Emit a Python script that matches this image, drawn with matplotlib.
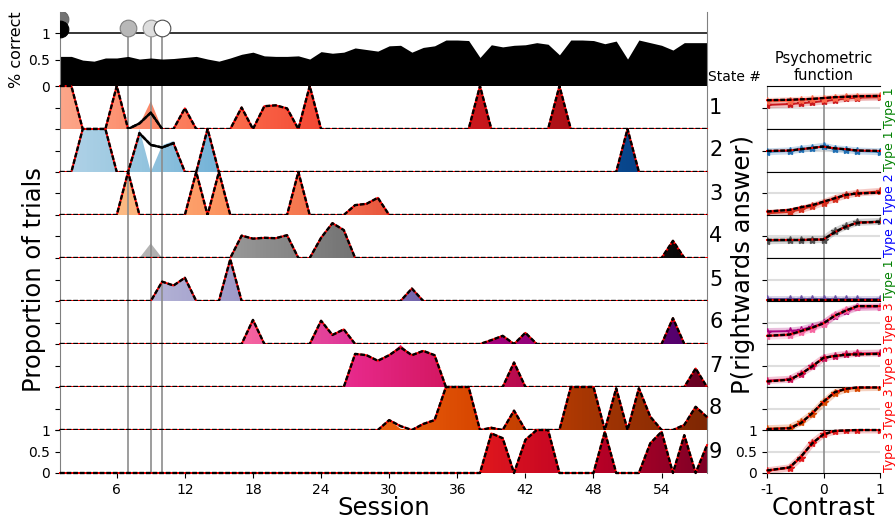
import numpy as np
import matplotlib
matplotlib.use("Agg")
import matplotlib.pyplot as plt
from matplotlib.patches import Polygon

plt.rcParams["axes.unicode_minus"] = False

sessions = np.arange(1, 59)

# fraction of correct trials per session
accuracy = [0.56, 0.56, 0.49, 0.47, 0.53, 0.53, 0.56, 0.51, 0.53, 0.51,
            0.52, 0.54, 0.56, 0.51, 0.47, 0.53, 0.60, 0.64, 0.57, 0.56,
            0.56, 0.57, 0.51, 0.65, 0.62, 0.64, 0.72, 0.69, 0.66, 0.76,
            0.77, 0.64, 0.73, 0.76, 0.87, 0.87, 0.86, 0.54, 0.78, 0.74,
            0.77, 0.78, 0.82, 0.79, 0.59, 0.87, 0.87, 0.86, 0.80, 0.85,
            0.51, 0.87, 0.82, 0.77, 0.68, 0.82, 0.82, 0.82]

# training stage markers
stage_sessions = [1, 1, 7, 9, 10]
stage_heights = [1.26, 1.08, 1.1, 1.1, 1.1]

# proportion of trials in each state (sessions not listed are 0)
state1 = {1: 1.0, 2: 1.0, 6: 1.0, 8: 0.13, 9: 0.38, 12: 0.48, 17: 0.50, 19: 0.53,
          20: 0.55, 21: 0.48, 23: 1.0, 38: 1.0, 45: 1.0}
state2 = {3: 1.0, 4: 1.0, 5: 1.0, 8: 0.90, 9: 0.63, 10: 0.57, 11: 0.67, 14: 1.0, 51: 1.0}
state3 = {7: 1.0, 13: 1.0, 15: 1.0, 22: 1.0, 27: 0.23, 28: 0.26, 29: 0.40}
state4 = {17: 0.52, 18: 0.45, 19: 0.47, 20: 0.46, 21: 0.53, 24: 0.47, 25: 0.81,
          26: 0.65, 55: 0.40}
state5 = {10: 0.45, 11: 0.36, 12: 0.54, 16: 0.97, 32: 0.29}
state6 = {18: 0.56, 24: 0.54, 25: 0.21, 26: 0.34, 39: 0.09, 40: 0.19, 42: 0.26, 55: 0.60}
state7 = {27: 0.77, 28: 0.74, 29: 0.61, 30: 0.74, 31: 0.92, 32: 0.74, 33: 0.84,
          34: 0.74, 41: 0.57, 57: 0.43}
state8 = {30: 0.23, 31: 0.09, 33: 0.14, 34: 0.23, 35: 1.0, 36: 1.0, 37: 1.0, 39: 0.05,
          41: 0.45, 46: 1.0, 47: 1.0, 48: 1.0, 50: 0.97, 52: 0.97, 53: 0.31,
          56: 0.12, 57: 0.54, 58: 0.30}
state9 = {39: 0.92, 40: 0.81, 42: 0.77, 43: 1.0, 44: 1.0, 49: 0.96, 53: 0.69,
          54: 0.96, 56: 0.88, 58: 0.65}

# raw state occupancy where it differs from the smoothed trace
fill1 = {8: 0.10, 9: 0.65}
fill2 = {8: 1.0, 9: 0.0, 10: 0.62, 11: 0.72}
fill4 = {9: 0.34}
fill7 = {31: 0.98}
fill8 = {31: 0.03, 39: 0.08}

# sessions where the second estimate is not drawn
red_gaps = {1: [8, 9], 2: [9, 10]}

state_cmaps = ["Reds", "Blues", "OrRd", "Greys", "Purples", "RdPu", "PuRd", "Oranges", "YlOrRd"]
state_types = ["Type 1", "Type 1", "Type 2", "Type 2", "Type 1",
               "Type 3", "Type 3", "Type 3", "Type 3"]
type_colours = {"Type 1": "green", "Type 2": "blue", "Type 3": "red"}

# psychometric functions per state
contrasts = [-1, -0.6, -0.4, -0.2, 0, 0.2, 0.4, 0.6, 1]
psy1 = [0.67, 0.68, 0.69, 0.70, 0.72, 0.74, 0.75, 0.76, 0.77]
psy2 = [0.49, 0.50, 0.53, 0.56, 0.59, 0.55, 0.53, 0.50, 0.49]
psy3 = [0.08, 0.12, 0.18, 0.23, 0.31, 0.39, 0.47, 0.50, 0.52]
psy4 = [0.42, 0.42, 0.42, 0.43, 0.43, 0.60, 0.73, 0.82, 0.84]
psy5 = [0.03, 0.03, 0.03, 0.03, 0.03, 0.03, 0.03, 0.03, 0.03]
psy6 = [0.19, 0.22, 0.30, 0.38, 0.48, 0.66, 0.78, 0.88, 0.88]
psy7 = [0.13, 0.17, 0.30, 0.48, 0.68, 0.72, 0.75, 0.76, 0.77]
psy8 = [0.02, 0.04, 0.16, 0.39, 0.66, 0.88, 0.96, 0.99, 0.99]
psy9 = [0.06, 0.13, 0.38, 0.69, 0.90, 0.98, 0.99, 1.00, 1.00]

# single-session psychometrics assigned to each state
sess_psy1 = [[0.56, 0.58, 0.60, 0.62, 0.65, 0.68, 0.71, 0.73, 0.74],
             [0.64, 0.66, 0.67, 0.69, 0.70, 0.72, 0.74, 0.75, 0.76]]
sess_psy2 = [[0.47, 0.49, 0.53, 0.56, 0.60, 0.54, 0.52, 0.49, 0.47]]
sess_psy3 = [[0.04, 0.07, 0.13, 0.20, 0.29, 0.38, 0.46, 0.51, 0.55]]
sess_psy4 = [[0.40, 0.41, 0.41, 0.42, 0.43, 0.62, 0.74, 0.83, 0.85]]
sess_psy5 = [[0.05, 0.05, 0.05, 0.05, 0.05, 0.05, 0.05, 0.05, 0.05]]
sess_psy6 = [[0.29, 0.30, 0.33, 0.40, 0.48, 0.65, 0.76, 0.85, 0.86],
             [0.18, 0.20, 0.27, 0.36, 0.47, 0.67, 0.79, 0.86, 0.87]]
sess_psy7 = [[0.15, 0.18, 0.31, 0.48, 0.67, 0.73, 0.76, 0.78, 0.79]]
sess_psy8 = [[0.03, 0.05, 0.18, 0.37, 0.64, 0.86, 0.95, 0.98, 0.99]]
sess_psy9 = [[0.05, 0.12, 0.36, 0.70, 0.90, 0.97, 0.99, 1.00, 1.00]]

states = [state1, state2, state3, state4, state5, state6, state7, state8, state9]
fills = {1: fill1, 2: fill2, 4: fill4, 7: fill7, 8: fill8}
psy_curves = [psy1, psy2, psy3, psy4, psy5, psy6, psy7, psy8, psy9]
psy_sessions = [sess_psy1, sess_psy2, sess_psy3, sess_psy4, sess_psy5,
                sess_psy6, sess_psy7, sess_psy8, sess_psy9]

W, H = 896, 522
TICK_FS = 10
BIG_FS = 17.5


def to_series(values, base=None):
    out = np.zeros(len(sessions)) if base is None else base.copy()
    for s, v in values.items():
        out[s - 1] = v
    return out


def px_axes(fig, x0, y0, x1, y1):
    return fig.add_axes([x0 / W, 1 - y1 / H, (x1 - x0) / W, (y1 - y0) / H])


def trace(ax, x, y, gaps=()):
    # red estimate underneath, dashed black estimate on top
    y = np.asarray(y, dtype=float)
    red = y.copy()
    gap = np.zeros(len(y), dtype=bool)
    for i in gaps:
        gap[i] = True
    red[gap] = np.nan
    ax.plot(x, red, color="red", lw=1.4, clip_on=False, zorder=5)
    ax.plot(x, y, color="black", lw=1.7, dashes=(2.0, 0.8), clip_on=False, zorder=6)
    if gap.any():
        near = gap | np.roll(gap, 1) | np.roll(gap, -1)
        solid = np.where(near, y, np.nan)
        ax.plot(x, solid, color="black", lw=1.7, clip_on=False, zorder=6)


def gradient_fill(ax, x, y, cmap):
    verts = np.column_stack([np.r_[x[0], x, x[-1]], np.r_[0, y, 0]])
    patch = Polygon(verts, closed=True, facecolor="none", edgecolor="none")
    ax.add_patch(patch)
    xs = np.linspace(x[0], x[-1], 600)
    colours = plt.get_cmap(cmap)(0.3 + 0.7 * xs / x[-1])
    img = ax.imshow(colours[np.newaxis], extent=(x[0], x[-1], 0, 1), aspect="auto",
                    origin="lower", interpolation="bilinear", zorder=2)
    img.set_clip_path(patch)


fig = plt.figure(figsize=(W / 100, H / 100), dpi=100)

# accuracy panel
ax_top = px_axes(fig, 60, 12, 707, 86)
ax_top.fill_between(sessions, 0, accuracy, color="black", lw=0, zorder=2)
ax_top.axhline(1, color="black", lw=1.1, zorder=2)
ax_top.vlines(stage_sessions[2:], 0, 1.1, color="0.55", lw=1.2, zorder=1)
stage_face = ["0.45", "black", "0.72", "0.87", "white"]
stage_edge = ["0.4", "black", "0.5", "0.6", "0.3"]
for s, h, fc, ec in zip(stage_sessions, stage_heights, stage_face, stage_edge):
    ax_top.plot(s, h, "o", ms=12, mfc=fc, mec=ec, mew=0.8, zorder=4)
ax_top.set_xlim(1, 58)
ax_top.set_ylim(0, 1.4)
ax_top.set_yticks([0, 0.5, 1])
ax_top.set_yticklabels(["0", "0.5", "1"], fontsize=TICK_FS)
ax_top.tick_params(axis="x", bottom=False, labelbottom=False)
for side in ["top", "bottom"]:
    ax_top.spines[side].set_visible(False)
for side in ["left", "right"]:
    ax_top.spines[side].set_color("0.5")

# state occupancy panels
for k, values in enumerate(states):
    num = k + 1
    ax = px_axes(fig, 60, 86 + 43 * k, 707, 129 + 43 * k)
    line = to_series(values)
    fill = to_series(fills.get(num, {}), base=line)
    gradient_fill(ax, sessions, fill, state_cmaps[k])
    trace(ax, sessions, line, [s - 1 for s in red_gaps.get(num, [])])
    for s in stage_sessions[2:]:
        ax.axvline(s, color="0.55", lw=1.2, zorder=3)
    ax.set_xlim(1, 58)
    ax.set_ylim(0, 1)
    for side in ["top", "bottom"]:
        ax.spines[side].set_visible(False)
    for side in ["left", "right"]:
        ax.spines[side].set_color("0.5")
    if num < 9:
        ax.set_yticks([0, 0.5])
        ax.set_yticklabels([])
        ax.tick_params(axis="x", bottom=False, labelbottom=False)
    else:
        ax.set_yticks([0, 0.5, 1])
        ax.set_yticklabels(["0", "0.5", "1"], fontsize=TICK_FS)
        ax.set_xticks(np.arange(6, 58, 6))
        ax.tick_params(axis="x", labelsize=TICK_FS)
    fig.text(709 / W, 1 - (107.5 + 43 * k) / H, str(num), fontsize=15,
             ha="left", va="center")

    # psychometric function of this state
    axp = px_axes(fig, 767, 86 + 43 * k, 880, 129 + 43 * k)
    cmap = plt.get_cmap(state_cmaps[k])
    axp.axhline(0.5, color="0.87", lw=1.5, zorder=0)
    axp.axvline(0, color="0.55", lw=1.2, zorder=1)
    for j, curve in enumerate(psy_sessions[k]):
        c = cmap(0.75 - 0.25 * j)
        axp.plot(contrasts, curve, color=c, lw=5, alpha=0.25, zorder=2)
        axp.plot(contrasts, curve, color=c, lw=1.4, marker="*", ms=6, zorder=3)
    trace(axp, contrasts, psy_curves[k])
    axp.set_xlim(-1, 1)
    axp.set_ylim(0, 1)
    axp.spines["right"].set_visible(False)
    axp.spines["left"].set_color("0.55")
    if num < 9:
        axp.set_yticks([0.5])
        axp.set_yticklabels([])
        axp.tick_params(axis="x", bottom=False, labelbottom=False)
    else:
        axp.set_yticks([0, 0.5, 1])
        axp.set_yticklabels(["0", "0.5", "1"], fontsize=TICK_FS)
        axp.set_xticks([-1, 0, 1])
        axp.set_xticklabels(["-1", "0", "1"], fontsize=TICK_FS)
    if num == 1:
        axp.set_title("Psychometric\nfunction", fontsize=10.5, pad=4)
    label = state_types[k]
    fig.text(889 / W, 1 - (107.5 + 43 * k) / H, label, rotation=90, fontsize=9,
             color=type_colours[label], ha="center", va="center")

fig.text(17 / W, 1 - 50 / H, "% correct", rotation=90, fontsize=11.5,
         ha="center", va="center")
fig.text(34 / W, 1 - 280 / H, "Proportion of trials", rotation=90, fontsize=BIG_FS,
         ha="center", va="center")
fig.text(383.5 / W, 1 - 508 / H, "Session", fontsize=BIG_FS, ha="center", va="center")
fig.text(708 / W, 1 - 77 / H, "State #", fontsize=10, ha="left", va="center")
fig.text(743 / W, 1 - 265 / H, "P(rightwards answer)", rotation=90, fontsize=BIG_FS,
         ha="center", va="center")
fig.text(823.5 / W, 1 - 508 / H, "Contrast", fontsize=BIG_FS, ha="center", va="center")

fig.savefig("out.png", dpi=100)
